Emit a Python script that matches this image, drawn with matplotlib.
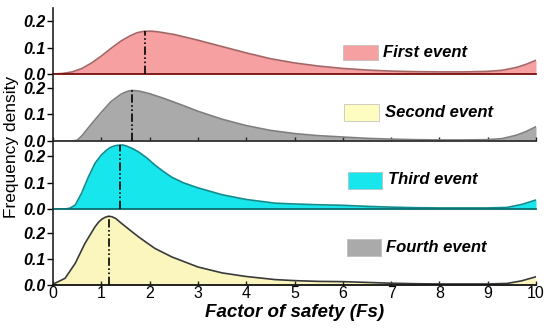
import matplotlib
matplotlib.use("Agg")
import matplotlib.pyplot as plt
from matplotlib.patches import Rectangle

plt.rcParams["font.family"] = ["Liberation Sans", "DejaVu Sans"]

# ---------------- data ----------------
x1 = [0, 0.2, 0.4, 0.6, 0.8, 1.0, 1.2, 1.4, 1.6, 1.75, 1.9, 2.05, 2.2, 2.5, 2.8, 3.0,
      3.5, 4.0, 4.5, 5.0, 5.5, 6.0, 6.5, 7.0, 7.5, 8.0, 8.5, 9.0, 9.3, 9.6, 9.8, 10]
y1 = [0.0, 0.002, 0.008, 0.021, 0.042, 0.068, 0.097, 0.124, 0.145, 0.157, 0.162, 0.162,
      0.159, 0.150, 0.137, 0.128, 0.104, 0.080, 0.058, 0.042, 0.030, 0.021, 0.015,
      0.011, 0.009, 0.008, 0.008, 0.010, 0.014, 0.025, 0.037, 0.052]

x2 = [0, 0.4, 0.5, 0.6, 0.8, 1.0, 1.2, 1.4, 1.5, 1.57, 1.64, 1.72, 1.8, 2.0, 2.3, 2.6,
      3.0, 3.5, 4.0, 4.5, 5.0, 5.5, 6.0, 6.5, 7.0, 7.5, 8.0, 8.5, 9.0, 9.3, 9.6, 9.8, 10]
y2 = [0.0, 0.0, 0.003, 0.020, 0.065, 0.108, 0.148, 0.175, 0.184, 0.188, 0.190, 0.189,
      0.187, 0.178, 0.160, 0.140, 0.112, 0.082, 0.058, 0.040, 0.028, 0.020, 0.015,
      0.010, 0.007, 0.005, 0.004, 0.004, 0.005, 0.009, 0.022, 0.036, 0.054]

x3 = [0, 0.25, 0.35, 0.46, 0.59, 0.73, 0.87, 1.0, 1.1, 1.18, 1.28, 1.39, 1.47, 1.55,
      1.65, 1.77, 1.95, 2.11, 2.3, 2.46, 2.7, 3.0, 3.5, 4.0, 4.6, 5.0, 5.5, 6.0, 6.5,
      7.0, 7.5, 8.0, 8.5, 9.0, 9.4, 9.7, 10]
y3 = [0.0, 0.0, 0.003, 0.015, 0.059, 0.120, 0.173, 0.204, 0.221, 0.232, 0.239, 0.242,
      0.241, 0.236, 0.228, 0.216, 0.192, 0.166, 0.140, 0.120, 0.099, 0.080, 0.054,
      0.036, 0.022, 0.019, 0.016, 0.014, 0.010, 0.007, 0.005, 0.004, 0.004, 0.004,
      0.006, 0.017, 0.034]

x4 = [0, 0.25, 0.46, 0.66, 0.87, 0.94, 1.0, 1.07, 1.15, 1.22, 1.3, 1.42, 1.6, 1.77,
      1.95, 2.11, 2.46, 3.0, 3.5, 4.0, 4.6, 5.0, 5.5, 6.0, 6.5, 7.0, 7.5, 8.0, 8.5,
      9.0, 9.4, 9.7, 10]
y4 = [0.003, 0.026, 0.084, 0.161, 0.226, 0.243, 0.254, 0.262, 0.267, 0.265, 0.258,
      0.239, 0.212, 0.187, 0.163, 0.142, 0.109, 0.070, 0.047, 0.033, 0.021, 0.017,
      0.014, 0.013, 0.010, 0.007, 0.005, 0.004, 0.004, 0.004, 0.006, 0.016, 0.032]

peak_x = [1.9, 1.64, 1.39, 1.15]
peak_y = [0.162, 0.190, 0.242, 0.267]
labels = ["First event", "Second event", "Third event", "Fourth event"]
y_ticks = [0.0, 0.1, 0.2]
x_ticks = [0, 1, 2, 3, 4, 5, 6, 7, 8, 9, 10]

xs = [x1, x2, x3, x4]
ys = [y1, y2, y3, y4]

# ---------------- styles ----------------
fills = ["#F6A0A2", "#AAAAAA", "#17E6EC", "#FBF6BE"]
edges = ["#A56565", "#7F7F7F", "#118C8C", "#3A3A3A"]
base_cols = ["#7A1010", "#333333", "#0E6E6E", "#111111"]
legend_cols = ["#F6A0A2", "#FDFDC2", "#17E6EC", "#AAAAAA"]
ylims = [0.25, 0.252, 0.257, 0.295]
# (bottom_px, top_px) in a 330 px tall figure
bounds = [(74, 8), (141, 74), (209, 141), (285, 209)]
leg_pos = [(0.60, 0.21, 0.44, 0.683, 0.33),
           (0.603, 0.30, 0.55, 0.688, 0.43),
           (0.61, 0.294, 0.544, 0.694, 0.43),
           (0.608, 0.38, 0.605, 0.690, 0.50)]

W, H = 550, 330
fig = plt.figure(figsize=(5.5, 3.3), dpi=100)
left, right = 53, 536

axes = []
for i in range(4):
    b, t = bounds[i]
    ax = fig.add_axes([left / W, 1 - b / H, (right - left) / W, (b - t) / H])
    axes.append(ax)
    ax.fill_between(xs[i], 0, ys[i], color=fills[i], lw=0, zorder=1)
    ax.plot(xs[i], ys[i], color=edges[i], lw=1.2, zorder=2)
    ax.plot([peak_x[i], peak_x[i]], [0, peak_y[i]], color="black", lw=1.2,
            linestyle=(0, (5, 1.5, 1, 1.5, 1, 1.5)), zorder=3)
    ax.set_xlim(0, 10)
    ax.set_ylim(0, ylims[i])
    ax.patch.set_alpha(0)
    for s in ["top", "right"]:
        ax.spines[s].set_visible(False)
    ax.spines["left"].set_linewidth(1.2)
    ax.spines["left"].set_color("#222222")
    ax.spines["bottom"].set_linewidth(1.3)
    ax.spines["bottom"].set_color(base_cols[i])
    ax.set_yticks(y_ticks)
    ax.set_yticklabels([f"{v:.1f}" for v in y_ticks], fontsize=11.5,
                       fontweight="bold", fontstyle="italic")
    ax.tick_params(axis="y", direction="out", length=4, width=1, pad=1)
    ax.set_xticks(x_ticks)
    if i in (1, 3):
        ax.tick_params(axis="x", direction="in", length=3, width=1, color="#222222")
    else:
        ax.tick_params(axis="x", length=0)
    if i == 3:
        ax.set_xticklabels([str(v) for v in x_ticks], fontsize=11.5)
        ax.tick_params(axis="x", pad=1)
    else:
        ax.set_xticklabels([])
    lx, pb, pt, tx, ty = leg_pos[i]
    ax.add_patch(Rectangle((lx, pb), 0.072, pt - pb, transform=ax.transAxes,
                           facecolor=legend_cols[i], edgecolor="#BBBBBB", lw=0.5,
                           zorder=4))
    ax.text(tx, ty, labels[i], transform=ax.transAxes, fontsize=12,
            fontweight="bold", fontstyle="italic", va="center", ha="left")

axes[3].set_xlabel("Factor of safety (Fs)", fontsize=13.5, fontweight="bold",
                   fontstyle="italic", labelpad=2)
fig.text(12 / W, 1 - 147 / H, "Frequency density", rotation=90, fontsize=12.5,
         ha="center", va="center")

fig.savefig("out.png", dpi=100)
